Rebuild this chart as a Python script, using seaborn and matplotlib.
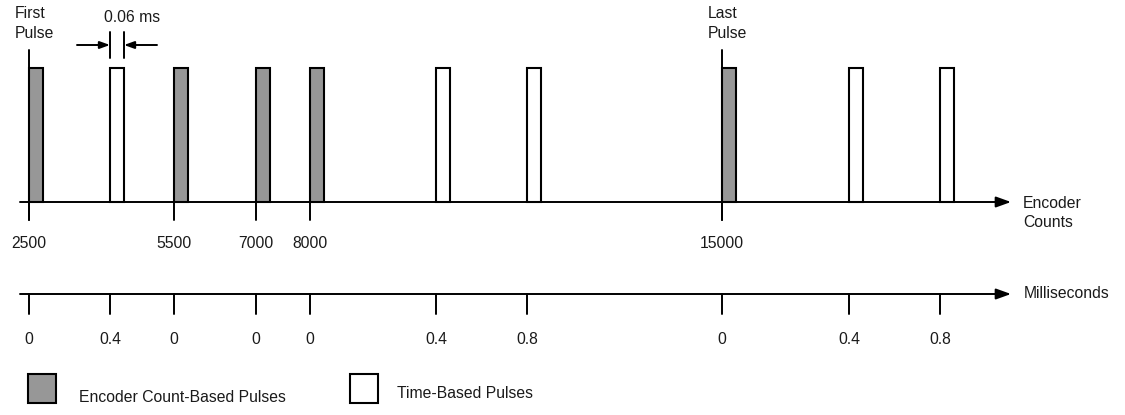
import pandas as pd
import seaborn as sns
import matplotlib.pyplot as plt

# Pulse positions along the (schematic) axis
pulse_start = [29, 110, 174, 256, 310, 436, 527, 722, 849, 940]
pulse_type = ['Encoder', 'Time', 'Encoder', 'Encoder', 'Encoder',
              'Time', 'Time', 'Encoder', 'Time', 'Time']
pulse_height = [1, 1, 1, 1, 1, 1, 1, 1, 1, 1]
ms_labels = ['0', '0.4', '0', '0', '0', '0.4', '0.8', '0', '0.4', '0.8']
count_labels = ['2500', '', '5500', '7000', '8000', '', '', '15000', '', '']
pulse_w = 14

sns.set_style('white')
plt.rcParams['font.family'] = ['Liberation Sans', 'DejaVu Sans']
FS = 11.3
TXT = '#1a1a1a'

df = pd.DataFrame({'x': [s + pulse_w / 2 for s in pulse_start],
                   'h': pulse_height, 'type': pulse_type})
min_gap = pd.Series(sorted(df['x'].unique())).diff().min()

fig = plt.figure(figsize=(11.25, 4.15), dpi=100)

# overlay axes in pixel-like coordinates for the axes lines and labels
ann = fig.add_axes([0, 0, 1, 1])
ann.set_xlim(0, 1125)
ann.set_ylim(415, 0)
ann.axis('off')

# pulse axes: baseline at y=202px, top of pulses at y=68px
ax = fig.add_axes([0, (415 - 202) / 415, 1, (202 - 68) / 415])
sns.barplot(data=df, x='x', y='h', hue='type', native_scale=True,
            palette={'Encoder': '#979797', 'Time': 'white'},
            width=pulse_w / min_gap, edgecolor='black', linewidth=1.5,
            errorbar=None, legend=False, ax=ax, clip_on=False, zorder=3)
ax.set_xlim(0, 1125)
ax.set_ylim(0, 1)
ax.axis('off')
ax.patch.set_alpha(0)

lw = 1.4
arrow = dict(arrowstyle='-|>,head_length=0.5,head_width=0.18', lw=lw,
             color='black', mutation_scale=18, shrinkA=0, shrinkB=0)

# encoder count axis
y_enc = 202
ann.annotate('', xy=(1011, y_enc), xytext=(20, y_enc), arrowprops=arrow)
for s, lab in zip(pulse_start, count_labels):
    if lab:
        ann.plot([s, s], [y_enc, 220], color='black', lw=lw)
        ann.text(s, 243, lab, ha='center', va='center', fontsize=FS, color=TXT)
ann.text(1023, 203, 'Encoder', ha='left', va='center', fontsize=FS, color=TXT)
ann.text(1023, 222, 'Counts', ha='left', va='center', fontsize=FS, color=TXT)

# first / last pulse markers
for s, words in [(pulse_start[0], ('First', 'Pulse')),
                 (pulse_start[7], ('Last', 'Pulse'))]:
    ann.plot([s, s], [50, 220], color='black', lw=lw)
    ann.text(s - 14, 13, words[0], ha='left', va='center', fontsize=FS, color=TXT)
    ann.text(s - 14, 33, words[1], ha='left', va='center', fontsize=FS, color=TXT)

# millisecond axis
y_ms = 294
ann.annotate('', xy=(1011, y_ms), xytext=(20, y_ms), arrowprops=arrow)
for s, lab in zip(pulse_start, ms_labels):
    ann.plot([s, s], [y_ms, 314], color='black', lw=lw)
    ann.text(s, 339, lab, ha='center', va='center', fontsize=FS, color=TXT)
ann.text(1024, 293, 'Milliseconds', ha='left', va='center', fontsize=FS, color=TXT)

# pulse width annotation
p0 = pulse_start[1]
p1 = p0 + pulse_w
for s in (p0, p1):
    ann.plot([s, s], [32, 58], color='black', lw=lw)
small = dict(arrow, mutation_scale=12)
ann.annotate('', xy=(p0, 45), xytext=(77, 45), arrowprops=small)
ann.annotate('', xy=(p1, 45), xytext=(157, 45), arrowprops=small)
ann.text(104, 17, '0.06 ms', ha='left', va='center', fontsize=FS, color=TXT)

# legend
ann.add_patch(plt.Rectangle((28, 374), 28, 29, facecolor='#979797',
                            edgecolor='black', lw=1.5))
ann.text(79, 397, 'Encoder Count-Based Pulses', ha='left', va='center',
         fontsize=FS, color=TXT)
ann.add_patch(plt.Rectangle((350, 374), 28, 29, facecolor='white',
                            edgecolor='black', lw=1.5))
ann.text(397, 393, 'Time-Based Pulses', ha='left', va='center',
         fontsize=FS, color=TXT)

fig.savefig('out.png', dpi=100)
